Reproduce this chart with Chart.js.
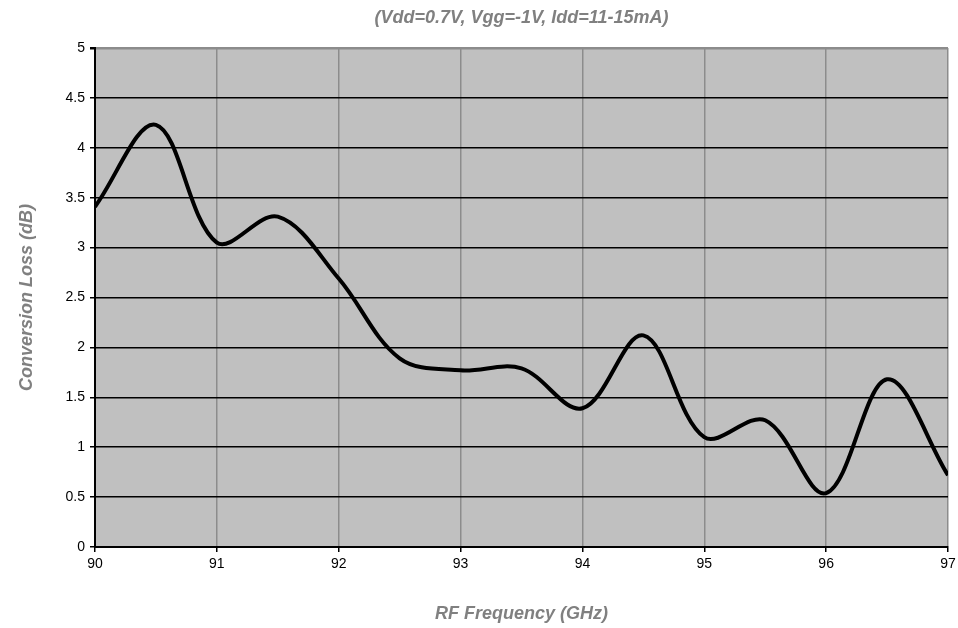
<!DOCTYPE html>
<html>
<head>
<meta charset="utf-8">
<script src="https://cdn.jsdelivr.net/npm/chart.js@4/dist/chart.umd.min.js"></script>
<style>
  html, body { margin: 0; padding: 0; background: #fff; }
  #wrap { width: 958px; height: 628px; position: relative; }
</style>
</head>
<body>
<div id="wrap"><canvas id="lossChart"></canvas></div>
<script>
// RF frequency (GHz) and conversion loss (dB)
const freqs = [90, 90.5, 91, 91.5, 92, 92.5, 93, 93.5, 94, 94.5, 95, 95.5, 96, 96.5, 97];
const lossDb = [3.41, 4.23, 3.05, 3.31, 2.69, 1.89, 1.77, 1.79, 1.39, 2.12, 1.1, 1.27, 0.54, 1.68, 0.72];

const chartTitle = '(Vdd=0.7V, Vgg=-1V, Idd=11-15mA)';
const xTitle = 'RF Frequency (GHz)';
const yTitle = 'Conversion Loss (dB)';

const fontFamily = '"Liberation Sans", Arial, sans-serif';
const greyText = '#808080';

// fill the plot area grey like the original
const plotBg = {
    id: 'plotBg',
    beforeDraw(chart) {
        const a = chart.chartArea;
        const ctx = chart.ctx;
        ctx.save();
        ctx.fillStyle = '#c0c0c0';
        ctx.fillRect(a.left, a.top, a.right - a.left, a.bottom - a.top);
        ctx.restore();
    }
};

const ctx = document.getElementById('lossChart').getContext('2d');
const myChart = new Chart(ctx, {
    type: 'line',
    data: {
        datasets: [{
            label: 'Conversion Loss',
            data: freqs.map((f, i) => ({ x: f, y: lossDb[i] })),
            borderColor: '#000',
            borderWidth: 4,
            pointRadius: 0,
            tension: 0.35,
            fill: false,
        }],
    },
    options: {
        responsive: true,
        maintainAspectRatio: false,
        animation: false,
        layout: { padding: { left: 0, right: 0, top: 0, bottom: 0 } },
        plugins: {
            legend: { display: false },
            tooltip: { enabled: false },
            title: {
                display: true,
                text: chartTitle,
                fullSize: false,
                color: greyText,
                font: { family: fontFamily, size: 18, style: 'italic', weight: 'bold' },
                padding: { top: 7.7, bottom: 18.7 },
            },
        },
        scales: {
            x: {
                type: 'linear',
                min: 90,
                max: 97,
                ticks: {
                    stepSize: 1,
                    color: '#000',
                    padding: 4,
                    maxRotation: 0,
                    font: { family: fontFamily, size: 14 },
                },
                grid: {
                    color: '#8c8c8c',
                    lineWidth: 1.5,
                    tickColor: '#000',
                    tickLength: 5,
                },
                border: { color: '#000', width: 2 },
                title: {
                    display: true,
                    text: xTitle,
                    color: greyText,
                    font: { family: fontFamily, size: 18, style: 'italic', weight: 'bold' },
                    padding: { top: 0, bottom: 3.2 },
                },
                afterFit(scale) {
                    scale.height = 81;
                    scale.paddingRight = 10;
                },
            },
            y: {
                min: 0,
                max: 5,
                ticks: {
                    stepSize: 0.5,
                    color: '#000',
                    padding: 5,
                    font: { family: fontFamily, size: 14 },
                    callback: v => String(v),
                },
                grid: {
                    color: c => (c.tick && c.tick.value === 5 ? '#8c8c8c' : '#000'),
                    lineWidth: c => (c.tick && c.tick.value === 5 ? 2.5 : 1.5),
                    tickColor: '#000',
                    tickLength: 5,
                },
                border: { color: '#000', width: 2 },
                title: {
                    display: true,
                    text: yTitle,
                    color: greyText,
                    font: { family: fontFamily, size: 18, style: 'italic', weight: 'bold' },
                    padding: { top: 16.7, bottom: 0 },
                },
                afterFit(scale) { scale.width = 95; },
            },
        },
    },
    plugins: [plotBg],
});
</script>
</body>
</html>
